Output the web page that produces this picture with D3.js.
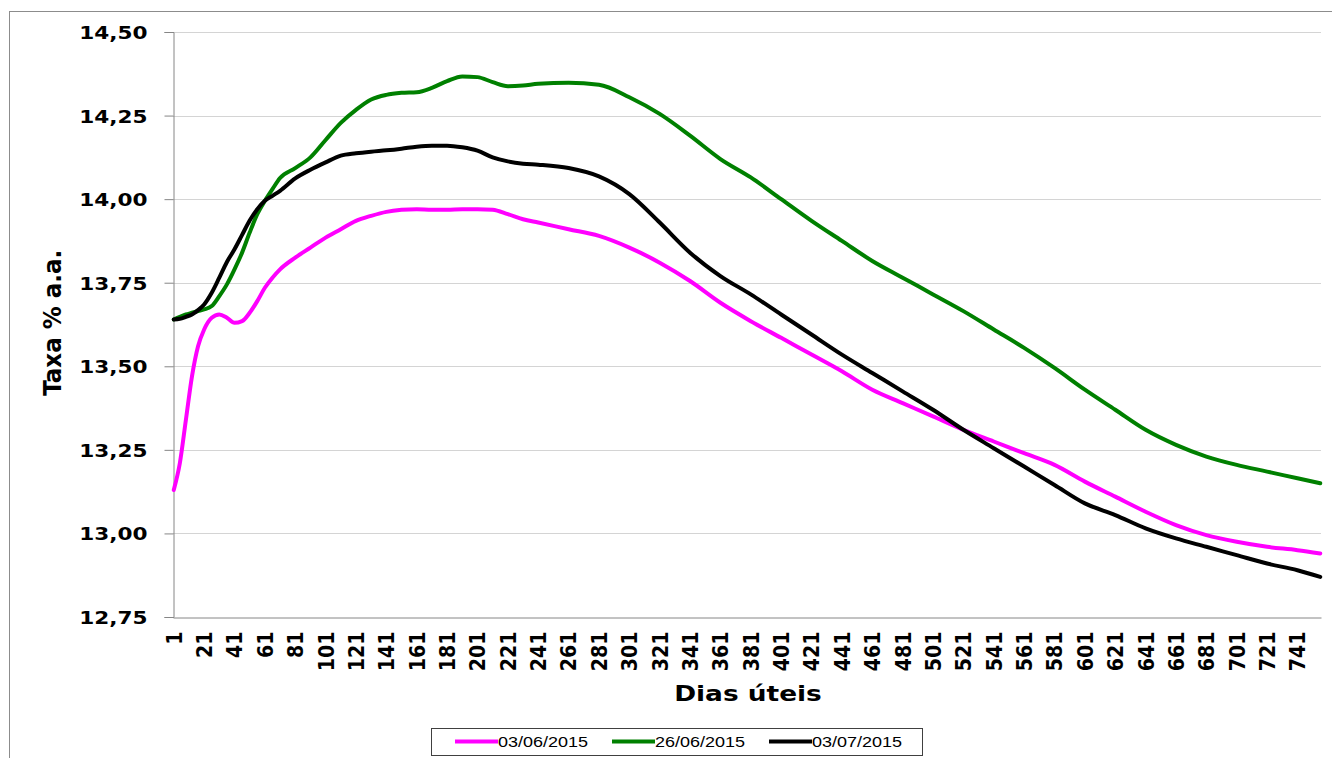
<!DOCTYPE html>
<meta charset="utf-8">
<style>
  body { margin: 0; background: #fff; }
  .tick-label { font-family: "DejaVu Sans", Verdana, sans-serif; font-weight: bold; fill: #000; }
  .legend-label { font-family: "Liberation Sans", Arial, sans-serif; font-size: 15px; fill: #000; }
  .serie { fill: none; stroke-width: 4px; stroke-linejoin: round; stroke-linecap: round; }
</style>
<body>
<script src="https://d3js.org/d3.v7.min.js"></script>
<script>

var days = [1, 5, 9, 13, 17, 21, 26, 31, 36, 41, 46, 51, 56, 61, 66, 71, 81, 91, 101, 111,
  121, 131, 141, 151, 161, 171, 181, 191, 201, 211, 221, 231, 241, 261, 281, 301, 321, 341,
  361, 381, 401, 421, 441, 461, 481, 501, 521, 541, 561, 581, 601, 621, 641, 661, 681, 701,
  721, 741, 756];

var rates0306 = [13.13, 13.21, 13.34, 13.47, 13.56, 13.61, 13.645, 13.655, 13.645, 13.63,
  13.635, 13.66, 13.695, 13.735, 13.765, 13.79, 13.825, 13.855, 13.885, 13.91,
  13.935, 13.95, 13.962, 13.968, 13.97, 13.968, 13.968, 13.97, 13.97, 13.968, 13.955,
  13.94, 13.93, 13.91, 13.89, 13.855, 13.81, 13.755, 13.69, 13.635, 13.585, 13.535,
  13.485, 13.43, 13.39, 13.35, 13.31, 13.275, 13.24, 13.205, 13.155, 13.11, 13.065,
  13.025, 12.995, 12.975, 12.96, 12.95, 12.94];

var rates2606 = [13.64, 13.648, 13.655, 13.66, 13.665, 13.67, 13.68, 13.71, 13.745, 13.79,
  13.84, 13.90, 13.955, 13.995, 14.03, 14.063, 14.093, 14.125, 14.177, 14.228,
  14.267, 14.298, 14.312, 14.318, 14.32, 14.333, 14.353, 14.367, 14.365, 14.35, 14.338,
  14.34, 14.345, 14.348, 14.342, 14.305, 14.255, 14.19, 14.12, 14.065, 14.00, 13.935,
  13.875, 13.815, 13.765, 13.715, 13.665, 13.61, 13.555, 13.495, 13.43, 13.37, 13.31,
  13.265, 13.23, 13.205, 13.185, 13.165, 13.15];

var rates0307 = [13.64, 13.642, 13.648, 13.655, 13.668, 13.685, 13.72, 13.765, 13.812, 13.85,
  13.893, 13.936, 13.97, 13.995, 14.01, 14.025, 14.062, 14.088, 14.11, 14.13,
  14.137, 14.142, 14.146, 14.151, 14.157, 14.16, 14.16, 14.155, 14.145, 14.125, 14.113,
  14.106, 14.103, 14.093, 14.068, 14.015, 13.93, 13.84, 13.77, 13.715, 13.655, 13.595,
  13.535, 13.48, 13.425, 13.37, 13.31, 13.255, 13.20, 13.145, 13.09, 13.055, 13.015,
  12.985, 12.96, 12.935, 12.91, 12.89, 12.87];

var seriesNames = ["03/06/2015", "26/06/2015", "03/07/2015"];
var seriesColors = ["#ff00ff", "#008000", "#000000"];
var seriesRates = [rates0306, rates2606, rates0307];

var yTicks = [12.75, 13.00, 13.25, 13.50, 13.75, 14.00, 14.25, 14.50];
var xTicks = d3.range(1, 742, 20);
var lastDay = 756;

var width = 1332,
    height = 758,
    margin = {top: 32, right: 11, bottom: 141, left: 173};

var svg = d3.select("body").append("svg")
    .attr("width", width)
    .attr("height", height);

// outer frame
svg.append("rect")
    .attr("x", 9.5)
    .attr("y", 11.5)
    .attr("width", width)
    .attr("height", height)
    .attr("fill", "none")
    .attr("stroke", "#8c8c8c");

var x = d3.scaleLinear()
    .domain([0.5, lastDay + 0.5])
    .range([margin.left, width - margin.right]);

var y = d3.scaleLinear()
    .domain([12.75, 14.50])
    .range([height - margin.bottom, margin.top]);

var fmt = function(v) { return d3.format(".2f")(v).replace(".", ","); };

// gridlines
svg.append("g")
  .selectAll("line")
    .data(yTicks.slice(1))
  .enter().append("line")
    .attr("x1", margin.left)
    .attr("x2", width - margin.right)
    .attr("y1", function(d) { return Math.round(y(d)) + 0.5; })
    .attr("y2", function(d) { return Math.round(y(d)) + 0.5; })
    .attr("stroke", "#d4d4d4");

// y axis
var yAxis = svg.append("g")
    .attr("transform", "translate(" + (margin.left + 0.5) + ",0)")
    .call(d3.axisLeft(y).tickValues(yTicks).tickSize(9).tickFormat(""));
yAxis.select(".domain").attr("stroke", "#868686");
yAxis.selectAll(".tick line").attr("stroke", "#868686");

yAxis.selectAll(".tick")
  .append("text")
    .attr("class", "tick-label")
    .attr("transform", "translate(-26,0) scale(1.2,1)")
    .attr("text-anchor", "end")
    .attr("dy", "0.36em")
    .style("font-size", "18px")
    .text(function(d) { return fmt(d); });

// x axis
var xAxis = svg.append("g")
    .attr("transform", "translate(0," + (height - margin.bottom + 0.5) + ")")
    .call(d3.axisBottom(x).tickValues(xTicks).tickSize(0).tickFormat(""));
xAxis.select(".domain").attr("stroke", "#868686");

xAxis.selectAll(".tick")
  .append("text")
    .attr("class", "tick-label")
    .attr("transform", "translate(0,14) scale(1.08,1) rotate(-90)")
    .attr("text-anchor", "end")
    .attr("dy", "0.36em")
    .style("font-size", "19px")
    .text(function(d) { return d; });

// axis titles
svg.append("text")
    .attr("class", "tick-label")
    .attr("transform", "translate(52," + (y(13.63)) + ") scale(1.1,1) rotate(-90)")
    .attr("text-anchor", "middle")
    .attr("dy", "0.36em")
    .style("font-size", "23px")
    .text("Taxa % a.a.");

svg.append("text")
    .attr("class", "tick-label")
    .attr("transform", "translate(748,693) scale(1.2,1)")
    .attr("text-anchor", "middle")
    .attr("dy", "0.36em")
    .style("font-size", "22px")
    .text("Dias úteis");

// series
var line = d3.line()
    .curve(d3.curveMonotoneX)
    .x(function(d) { return x(d[0]); })
    .y(function(d) { return y(d[1]); });

svg.append("g")
  .selectAll("path")
    .data(seriesRates)
  .enter().append("path")
    .attr("class", "serie")
    .attr("stroke", function(d, i) { return seriesColors[i]; })
    .attr("d", function(d) { return line(d3.zip(days, d)); });

// legend
var legend = svg.append("g");

legend.append("rect")
    .attr("x", 431.5)
    .attr("y", 728.5)
    .attr("width", 491)
    .attr("height", 27)
    .attr("fill", "#fff")
    .attr("stroke", "#404040");

var item = legend.selectAll(".item")
    .data(seriesNames)
  .enter().append("g")
    .attr("class", "item")
    .attr("transform", function(d, i) { return "translate(" + [455, 612, 769][i] + ",741.5)"; });

item.append("line")
    .attr("x1", 0)
    .attr("x2", 43)
    .attr("stroke", function(d, i) { return seriesColors[i]; })
    .attr("stroke-width", 4);

item.append("text")
    .attr("class", "legend-label")
    .attr("transform", "translate(43,0) scale(1.2,1)")
    .attr("dy", "0.36em")
    .text(function(d) { return d; });

</script>
</body>
